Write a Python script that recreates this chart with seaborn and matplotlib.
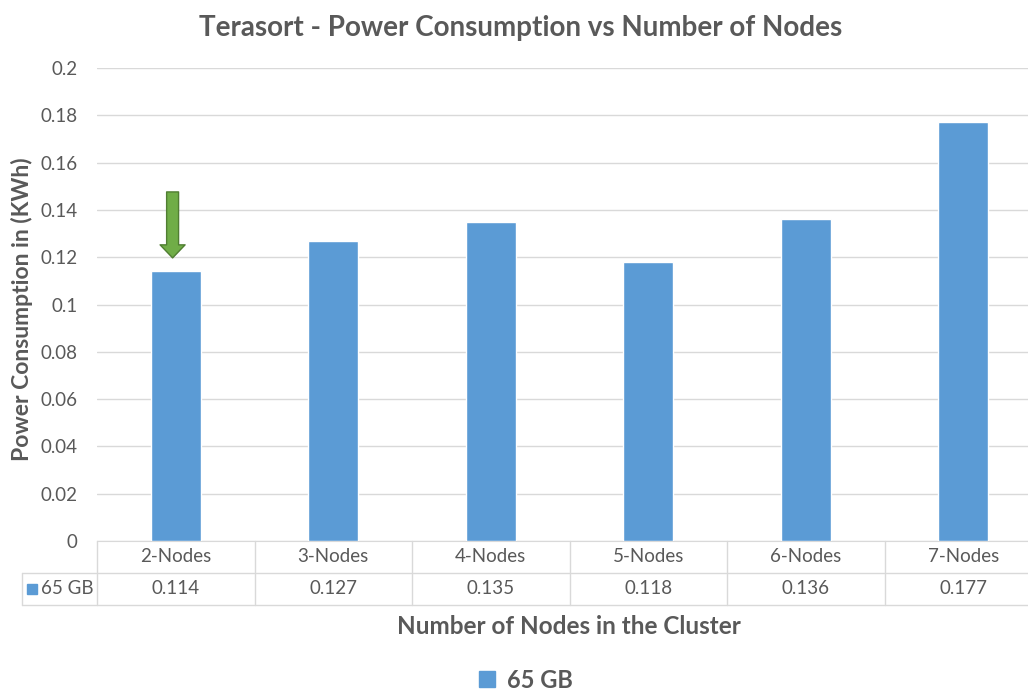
import matplotlib
matplotlib.use('Agg')
import pandas as pd
from matplotlib import pyplot as plt
from matplotlib.patches import Patch
import seaborn as sns

# Chart data
categories = ['2-Nodes', '3-Nodes', '4-Nodes', '5-Nodes', '6-Nodes', '7-Nodes']
power_kwh = [0.114, 0.127, 0.135, 0.118, 0.136, 0.177]
series_name = '65 GB'
y_ticks = [0, 0.02, 0.04, 0.06, 0.08, 0.1, 0.12, 0.14, 0.16, 0.18, 0.2]

bar_color = '#5B9BD5'
text_color = '#595959'
grid_color = '#D9D9D9'

sns.set_style('white')
plt.rcParams['font.family'] = ['Lato', 'DejaVu Sans']

W, H = 1028, 691
fig = plt.figure(figsize=(W / 100, H / 100), dpi=100)
ax = fig.add_axes([97 / W, 1 - 541 / H, 945 / W, 473 / H])

df = pd.DataFrame({'Nodes': categories, 'Power': power_kwh})
sns.barplot(data=df, x='Nodes', y='Power', color=bar_color, width=0.32,
            saturation=1, ax=ax, zorder=3)

ax.set_xlim(-0.5, len(categories) - 0.5)
ax.set_ylim(0, 0.2)
ax.set_yticks(y_ticks)
ax.set_yticklabels([f'{v:g}' for v in y_ticks], fontsize=13.5, color=text_color)
ax.tick_params(axis='y', length=0, pad=14)
ax.set_xticks([])
ax.set_xlabel('')
ax.yaxis.grid(True, color=grid_color, lw=1)
ax.set_axisbelow(True)
for s in ['top', 'right', 'left']:
    ax.spines[s].set_visible(False)
ax.spines['bottom'].set_color(grid_color)

ax.set_ylabel('Power Consumption in (KWh)', fontsize=16.5, fontweight='bold',
              color=text_color)
ax.yaxis.set_label_coords(-64 / 945, 0.49)

# Data table under the axis
trans = ax.get_xaxis_transform()
row_h = 32 / 473
cat_px = 945 / len(categories)
left_x = -0.5 - (97 - 22) / cat_px
right_x = len(categories) - 0.5
line_kw = dict(color=grid_color, lw=1, transform=trans, clip_on=False)
ax.plot([-0.5, right_x], [-row_h, -row_h], **line_kw)
ax.plot([left_x, -0.5], [-row_h, -row_h], **line_kw)
ax.plot([left_x, right_x], [-2 * row_h, -2 * row_h], **line_kw)
for i in range(len(categories) + 1):
    ax.plot([i - 0.5, i - 0.5], [0, -2 * row_h], **line_kw)
ax.plot([left_x, left_x], [-row_h, -2 * row_h], **line_kw)
for i, (cat, val) in enumerate(zip(categories, power_kwh)):
    ax.text(i, -row_h / 2, cat, transform=trans, ha='center', va='center',
            fontsize=13.5, color=text_color)
    ax.text(i, -1.5 * row_h, f'{val:.3f}', transform=trans, ha='center',
            va='center', fontsize=13.5, color=text_color)
ax.plot([left_x + 10 / cat_px], [-1.5 * row_h], marker='s', ms=7,
        color=bar_color, transform=trans, clip_on=False)
ax.text(left_x + 19 / cat_px, -1.5 * row_h, series_name, transform=trans,
        ha='left', va='center', fontsize=13.5, color=text_color)

# Green arrow pointing at the lowest bar
ax.annotate('', xy=(-0.02, 0.1197), xytext=(-0.02, 0.1476),
            arrowprops=dict(arrowstyle='simple,head_length=0.47,head_width=0.9,tail_width=0.43',
                            fc='#70AD47', ec='#507E32', lw=1, mutation_scale=20,
                            shrinkA=0, shrinkB=0), zorder=5)

fig.text(521 / W, 1 - 28 / H, 'Terasort - Power Consumption vs Number of Nodes',
         ha='center', va='center', fontsize=20, fontweight='bold', color=text_color)
fig.text(569 / W, 1 - 626 / H, 'Number of Nodes in the Cluster', ha='center',
         va='center', fontsize=17.5, fontweight='bold', color=text_color)

leg = fig.legend(handles=[Patch(color=bar_color, label=series_name)],
                 loc='center', bbox_to_anchor=(526 / W, 1 - 680 / H), frameon=False,
                 prop={'weight': 'bold', 'size': 17}, handlelength=0.65,
                 handleheight=0.65, handletextpad=0.5)
for t in leg.get_texts():
    t.set_color(text_color)

fig.savefig('out.png', dpi=100)
